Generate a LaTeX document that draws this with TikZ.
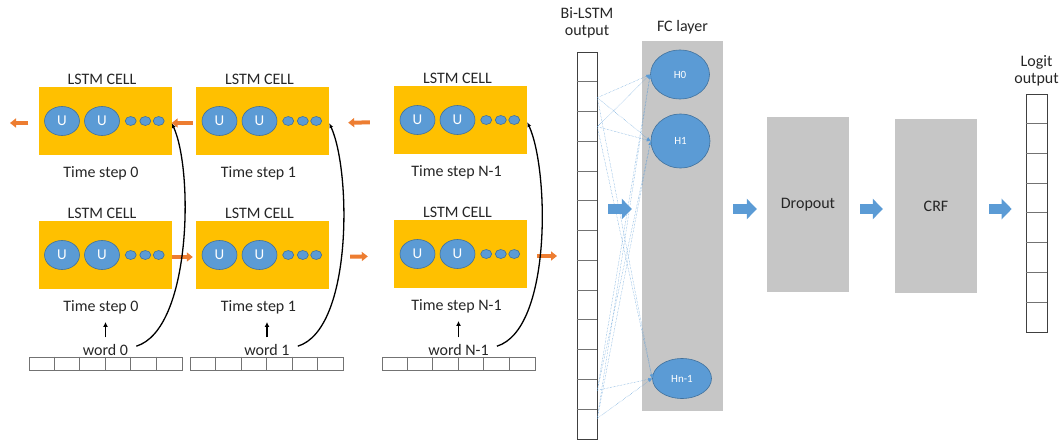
\documentclass[tikz,border=0pt]{standalone}
\usepackage{fontspec}
\setmainfont{Carlito}
\usetikzlibrary{arrows.meta,positioning,shapes.geometric}
\definecolor{cellyellow}{HTML}{FFC000}
\definecolor{unitblue}{HTML}{5B9BD5}
\definecolor{unitedge}{HTML}{41719C}
\definecolor{flowred}{HTML}{ED7D31}
\definecolor{layergray}{HTML}{C6C6C6}
\definecolor{ink}{HTML}{262626}
\begin{document}
\begin{tikzpicture}[x=1pt,y=-1pt,>=latex,text=ink,font=\fontsize{16}{17}\selectfont,
    cell/.style={fill=cellyellow,minimum width=133pt,minimum height=68pt,inner sep=0},
    unit/.style={ellipse,fill=unitblue,draw=unitedge,line width=.6pt,inner sep=0,text=white},
    bigunit/.style={unit,minimum width=35pt,minimum height=29pt,font=\fontsize{15}{15}\selectfont},
    smallunit/.style={unit,minimum width=11pt,minimum height=9pt},
    hid/.style={unit,minimum width=59pt,font=\fontsize{11}{11}\selectfont},
    tag/.style={inner sep=0,anchor=base},
    layer/.style={fill=layergray,inner sep=0},
    column/.style={draw=black!75,line width=.6pt,inner sep=0,minimum width=20pt},
    divider/.style={draw=black!55,line width=.5pt},
    flow/.style={draw=flowred,line width=4pt,-{Triangle[length=6pt,width=9pt]}},
    feed/.style={line width=1.3pt,-{Latex[length=5pt,width=4pt]}},
    lift/.style={line width=1.6pt,-{Latex[length=5pt,width=5pt]}},
    link/.style={draw=unitblue,line width=.45pt,densely dotted,-{Latex[length=4pt,width=3pt]}},
    push/.style={draw=unitblue,line width=10pt,-{Triangle[length=10pt,width=20pt]}}]
  \useasboundingbox (0,0) rectangle (1064,441);

  % LSTM cells: backward pass on top, forward pass below
  \foreach \nm/\x/\y/\stp in {bw0/105/121/0,bw1/262.5/121/1,bwN/460.5/120/N-1,
                              fw0/105/255/0,fw1/262.5/255/1,fwN/460.5/254/N-1} {
    \node[cell] (\nm) at (\x,\y) {};
    \node[bigunit] (\nm-u1) at ([xshift=-43pt]\nm.center) {U};
    \node[bigunit] (\nm-u2) at ([xshift=-3pt]\nm.center) {U};
    \foreach \d/\dx in {1/25.7,2/40.3,3/53.7}
      \node[smallunit] (\nm-d\d) at ([xshift=\dx pt]\nm.center) {};
    \node[tag] (\nm-name) at ([xshift=-3pt,yshift=2pt]\nm.north) {LSTM CELL};
    \node[tag] (\nm-step) at ([xshift=-4pt,yshift=-22pt]\nm.south) {Time step \stp};
  }

  % state passed between time steps
  \coordinate (bwout) at (10,123);
  \coordinate (fwout) at (557,256);
  \draw[flow] ([xshift=-10pt,yshift=-2pt]bw0.west) -- (bwout);
  \draw[flow,shorten <=3pt] ([yshift=-2pt]bw1.west) -- ([yshift=-2pt]bw0.east);
  \draw[flow,shorten <=24pt,shorten >=19pt] ([yshift=-2pt]bwN.west) -- ([yshift=-2pt]bw1.east);
  \draw[flow,shorten >=3pt] ([yshift=-2pt]fw0.east) -- ([yshift=-2pt]fw1.west);
  \draw[flow,shorten <=21pt,shorten >=26pt] ([yshift=-2pt]fw1.east) -- ([yshift=-2pt]fwN.west);
  \draw[flow] ([xshift=10pt,yshift=-2pt]fwN.east) -- (fwout);

  % word vectors feeding both passes
  \foreach \nm/\x/\stp in {0/105.5/0,1/267/1,N/458.5/N-1} {
    \node[column,draw=black!55,minimum width=153pt,minimum height=13pt] (v\nm) at (\x,363.5) {};
    \foreach \i in {1,...,5}
      \draw[divider] ([xshift=\i*25.5pt]v\nm.north west) -- ([xshift=\i*25.5pt]v\nm.south west);
    \node[tag] (w\nm) at ([yshift=1pt]v\nm.north) {word \stp};
    \draw[lift,shorten <=7pt,shorten >=8pt] (w\nm.north) -- (w\nm.north |- fw\nm-step.south);
    \draw[feed] ([xshift=8pt,yshift=4pt]w\nm.east) .. controls +(55,-17) and +(22,48) .. ([yshift=-2pt]bw\nm.east);
  }

  % Bi-LSTM output
  \node[column,minimum height=387pt] (bil) at (587,245.5) {};
  \foreach \i in {1,...,12}
    \draw[divider] ([yshift=-\i*29.77pt]bil.north west) -- ([yshift=-\i*29.77pt]bil.north east);
  \node[tag,anchor=south,align=center] (bilname) at ([yshift=13.5pt]bil.north) {Bi-LSTM\\output};

  % FC layer
  \node[layer,minimum width=81pt,minimum height=370pt] (fc) at (682.5,226) {};
  \node[tag,anchor=south] (fcname) at ([yshift=7pt]fc.north) {FC layer};
  \node[hid,minimum height=49pt] (h0) at (680,74.5) {H0};
  \node[hid,minimum height=54pt] (h1) at (680.5,141) {H1};
  \node[hid,minimum height=40pt] (hn) at (682,378.5) {Hn-1};
  \coordinate (s1) at ([yshift=-46pt]bil.north east);
  \coordinate (s2) at ([yshift=-75pt]bil.north east);
  \coordinate (s3) at ([yshift=49pt]bil.south east);
  \coordinate (s4) at ([yshift=21pt]bil.south east);
  \foreach \s in {s1,s2,s3,s4}
    \foreach \h in {h0,h1,hn}
      \draw[link] (\s) -- (\h.west);

  % Dropout, CRF, logits
  \node[layer,minimum width=82pt,minimum height=175pt] (drop) at (808,204.5) {Dropout};
  \node[layer,minimum width=82pt,minimum height=174pt] (crf) at (936,206) {CRF};
  \node[column,minimum width=21pt,minimum height=238pt] (logit) at (1036.5,213) {};
  \foreach \i in {1,...,7}
    \draw[divider] ([yshift=-\i*29.75pt]logit.north west) -- ([yshift=-\i*29.75pt]logit.north east);
  \node[tag,anchor=south,align=center] (logitname) at ([yshift=7.5pt]logit.north) {Logit\\output};

  \coordinate (row) at (0,209);
  \draw[push,shorten <=11pt,shorten >=10pt] (bil.east |- row) -- (fc.west |- row);
  \draw[push,shorten <=10pt,shorten >=10pt] (fc.east |- row) -- (drop.west |- row);
  \draw[push,shorten <=11pt,shorten >=12pt] (drop.east |- row) -- (crf.west |- row);
  \draw[push,shorten <=12pt,shorten >=14pt] (crf.east |- row) -- (logit.west |- row);
\end{tikzpicture}
\end{document}
